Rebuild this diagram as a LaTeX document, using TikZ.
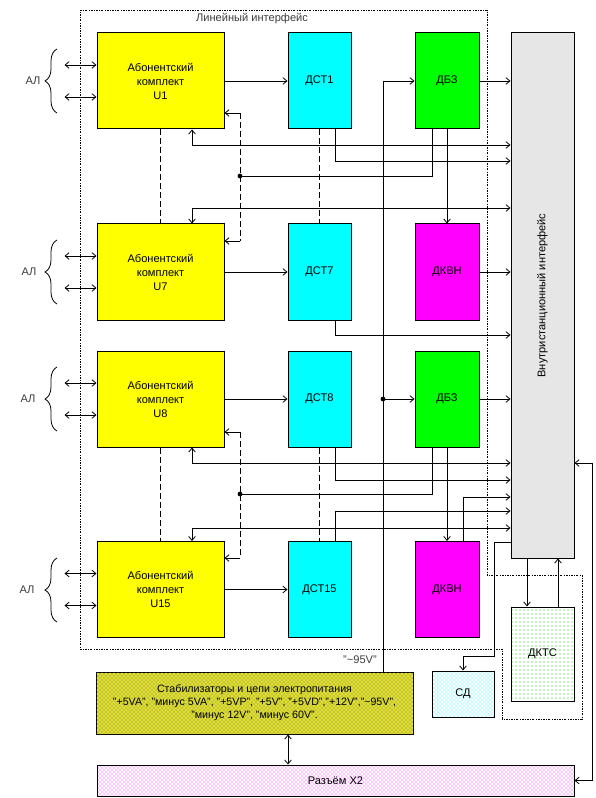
\documentclass[tikz,border=0pt]{standalone}
\usepackage{fontspec}
\setmainfont{Liberation Sans}
\usetikzlibrary{arrows.meta,patterns,decorations.pathreplacing}
\definecolor{abyellow}{RGB}{255,255,0}
\definecolor{dstcyan}{RGB}{0,255,255}
\definecolor{dbzgreen}{RGB}{0,255,0}
\definecolor{dkvnmag}{RGB}{255,0,255}
\definecolor{vigray}{RGB}{230,230,230}
\definecolor{pwrfill}{RGB}{225,225,45}
\definecolor{textgray}{RGB}{60,60,60}
\tikzset{
    blk/.style={draw, line width=0.75pt, align=center, inner sep=0pt, font=\fontsize{8.3}{10.5}\selectfont},
    abk/.style={blk, fill=abyellow, minimum width=95.25pt, minimum height=72pt},
    dst/.style={blk, fill=dstcyan, minimum width=47.25pt, minimum height=72pt},
    dbz/.style={blk, fill=dbzgreen, minimum width=48pt, minimum height=72pt},
    dkvn/.style={blk, fill=dkvnmag, minimum width=48pt, minimum height=72pt},
    lnk/.style={line width=0.6pt, >={Straight Barb[length=3pt,width=5pt]}},
    arr/.style={lnk, ->},
    dbl/.style={lnk, <->},
    dsh/.style={lnk, dash pattern=on 4.5pt off 2.25pt},
    frm/.style={line width=0.6pt, dash pattern=on 1.5pt off 1pt on 0.5pt off 1pt},
    albrace/.style={lnk, decorate, decoration={brace, amplitude=9pt}},
    lbl/.style={inner sep=0pt, text=textgray, font=\fontsize{8.3}{10}\selectfont}
}
\begin{document}
\begin{tikzpicture}[x=0.75pt, y=-0.75pt]
    \useasboundingbox (0,0) rectangle (595,798);
    \draw[frm] (80,10) -- (487,10) -- (487,575) -- (582,575) -- (582,719) -- (502,719) -- (502,649) -- (80,649) -- cycle;
    \node[lbl] (lint) at (252,19) {Линейный интерфейс};

    \node[abk] (u1) at (160.5,81) {Абонентский\\комплект\\U1};
    \node[abk] (u7) at (160.5,272) {Абонентский\\комплект\\U7};
    \node[abk] (u8) at (160.5,399) {Абонентский\\комплект\\U8};
    \node[abk] (u15) at (160.5,589.5) {Абонентский\\комплект\\U15};
    \node[dst] (dst1) at (319.5,81) {ДСТ1};
    \node[dst] (dst7) at (319.5,272) {ДСТ7};
    \node[dst] (dst8) at (319.5,399) {ДСТ8};
    \node[dst] (dst15) at (319.5,589.5) {ДСТ15};
    \node[dbz] (dbz1) at (447,81) {ДБЗ};
    \node[dkvn] (dkvn7) at (447,272) {ДКВН};
    \node[dbz] (dbz8) at (447,399) {ДБЗ};
    \node[dkvn] (dkvn15) at (447,589.5) {ДКВН};
    \node[blk, fill=vigray, minimum width=47.25pt, minimum height=393.75pt] (vi) at (542.5,295.5) {\rotatebox{90}{Внутристанционный интерфейс}};
    \node[blk, pattern=dots, pattern color=dbzgreen!80!black, minimum width=47.25pt, minimum height=70.5pt] (dkts) at (542.5,654) {ДКТС};
    \node[blk, pattern=crosshatch dots, pattern color=dstcyan, minimum width=46.5pt, minimum height=34.5pt] (sd) at (463,694) {СД};
    \node[blk, fill=pwrfill, postaction={pattern=crosshatch dots, pattern color=black!60}, minimum width=237.75pt, minimum height=46.5pt, font=\fontsize{8}{9.75}\selectfont] (pwr) at (254.5,703) {Стабилизаторы и цепи электропитания\\"+5VA", "минус 5VA", "+5VP", "+5V", "+5VD","+12V","\textasciitilde95V",\\"минус 12V", "минус 60V".};
    \node[blk, pattern=crosshatch dots, pattern color=dkvnmag, minimum width=357.75pt, minimum height=23.25pt] (x2) at (335.5,780.5) {Разъём X2};
    \node[lbl] (v95) at (360,660) {"\textasciitilde95V"};

    \node[lbl] (al1) at (33,81) {АЛ};
    \node[lbl] (al7) at (29,272) {АЛ};
    \node[lbl] (al8) at (28,399) {АЛ};
    \node[lbl] (al15) at (27,590) {АЛ};
    \draw[albrace] (57,113) -- (57,49);
    \draw[albrace] (57,304) -- (57,240);
    \draw[albrace] (57,431) -- (57,367);
    \draw[albrace] (57,622) -- (57,558);
    \draw[dbl] ([yshift=12pt]u1.west) -- +(-32,0);
    \draw[dbl] ([yshift=-12pt]u1.west) -- +(-32,0);
    \draw[dbl] ([yshift=12pt]u7.west) -- +(-32,0);
    \draw[dbl] ([yshift=-12pt]u7.west) -- +(-32,0);
    \draw[dbl] ([yshift=12pt]u8.west) -- +(-32,0);
    \draw[dbl] ([yshift=-12pt]u8.west) -- +(-32,0);
    \draw[dbl] ([yshift=12pt]u15.west) -- +(-32,0);
    \draw[dbl] ([yshift=-12pt]u15.west) -- +(-32,0);

    \draw[arr] (u1) -- (dst1);
    \draw[arr] (u7) -- (dst7);
    \draw[arr] (u8) -- (dst8);
    \draw[arr] (u15) -- (dst15);
    \draw[arr] (dbz1) -- (dbz1 -| vi.west);
    \draw[arr] (dkvn7) -- (dkvn7 -| vi.west);
    \draw[arr] (dbz8) -- (dbz8 -| vi.west);
    \draw[arr] (dbz1) -- (dkvn7);
    \draw[arr] (dbz8) -- (dkvn15);
    \draw[dsh] (u1) -- (u7);
    \draw[dsh] (u8) -- (u15);
    \draw[dsh] (dst1) -- (dst7);
    \draw[dsh] (dst8) -- (dst15);

    \coordinate (bt1) at (240,113);
    \coordinate (j1) at (240,176);
    \coordinate (bb1) at (240,241);
    \coordinate (bt2) at (240,432);
    \coordinate (j2) at (240,494);
    \coordinate (bb2) at (240,558);
    \coordinate (j95) at (383,399);
    \draw[dsh] (bt1) -- (bb1);
    \draw[dsh] (bt2) -- (bb2);
    \draw[arr] (bt1) -- (bt1 -| u1.east);
    \draw[arr] (bb1) -- (bb1 -| u7.east);
    \draw[arr] (bt2) -- (bt2 -| u8.east);
    \draw[arr] (bb2) -- (bb2 -| u15.east);
    \draw[lnk] (dbz1.south -| 432,0) |- (j1);
    \draw[lnk] (dbz8.south -| 432,0) |- (j2);
    \fill (j1) circle (1.8pt);
    \fill (j2) circle (1.8pt);
    \draw[arr] (pwr.north -| 383,0) |- (dbz1);
    \draw[arr] (j95) -- (dbz8);
    \fill (j95) circle (1.8pt);

    \draw[dbl] (u1.south -| 192,0) |- (vi.west |- 0,145);
    \draw[arr] (dst1.south -| 335,0) |- (vi.west |- 0,161);
    \draw[dbl] (u7.north -| 192,0) |- (vi.west |- 0,208);
    \draw[arr] (dst7.south -| 335,0) |- (vi.west |- 0,335);
    \draw[dbl] (u8.south -| 192,0) |- (vi.west |- 0,463);
    \draw[arr] (dst8.south -| 335,0) |- (vi.west |- 0,480);
    \draw[arr] (dkvn15.north -| 463,0) |- (vi.west |- 0,497);
    \draw[arr] (dst15.north -| 335,0) |- (vi.west |- 0,511);
    \draw[dbl] (u15.north -| 192,0) |- (vi.west |- 0,528);
    \draw[dbl] (vi.east |- 0,463) -- (592,463) |- (x2.east);
    \draw[arr] (vi.west |- 0,542) -| (494,656) -| (sd);
    \draw[arr] (vi.south -| 527,0) -- (dkts.north -| 527,0);
    \draw[arr] (dkts.north -| 558,0) -- (vi.south -| 558,0);
    \draw[dbl] (pwr.south -| 288,0) -- (x2.north -| 288,0);
\end{tikzpicture}
\end{document}
